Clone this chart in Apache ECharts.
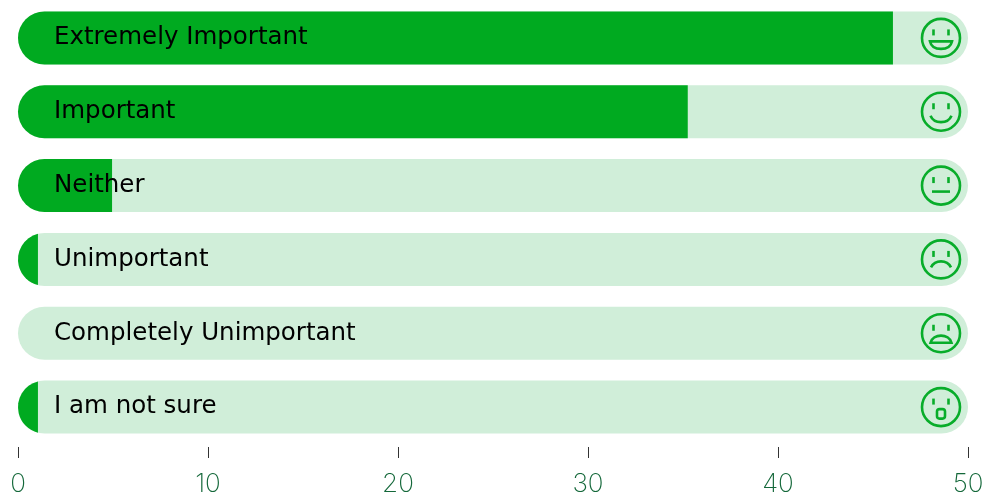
<!DOCTYPE html>
<html>
<head>
<meta charset="utf-8">
<style>html,body{margin:0;padding:0;background:#fff}#chart{width:987px;height:493px}</style>
<script src="https://cdn.jsdelivr.net/npm/echarts@6/dist/echarts.min.js"></script>
</head>
<body>
<div id="chart"></div>
<script>
// Survey answers, percent of respondents
const categories = ['Extremely Important', 'Important', 'Neither', 'Unimportant', 'Completely Unimportant', 'I am not sure'];
const percentages = [46.05, 35.25, 4.95, 1.05, 0, 1.05];
const faces = ['grin', 'smile', 'neutral', 'sad', 'cry', 'shock'];
const scaleMax = 50;
const tickStep = 10;

const GREEN = '#00aa20';
const PALE = '#d0eed9';
const FACE = '#08ad2a';
const BAR_H = 53;

// Left-rounded pill from x0 to x1, cut vertically at x1 when it falls inside the cap
function pillPath(x0, x1, top, bottom, roundRight) {
  const r = (bottom - top) / 2, cy = (top + bottom) / 2, w = x1 - x0;
  if (roundRight) {
    return `M${x0 + r} ${top}A${r} ${r} 0 0 0 ${x0 + r} ${bottom}L${x1 - r} ${bottom}A${r} ${r} 0 0 0 ${x1 - r} ${top}Z`;
  }
  if (w >= r) {
    return `M${x0 + r} ${top}A${r} ${r} 0 0 0 ${x0 + r} ${bottom}L${x1} ${bottom}L${x1} ${top}Z`;
  }
  const dy = Math.sqrt(r * r - (r - w) * (r - w));
  return `M${x1} ${cy - dy}A${r} ${r} 0 0 0 ${x1} ${cy + dy}Z`;
}

// Mouth outlines relative to the face centre
const mouths = {
  grin: 'M-11 3.5L11 3.5C10 8 6 11 0 11C-6 11 -10 8 -11 3.5Z',
  smile: 'M-10.5 4C-7 12.5 7 12.5 10.5 4',
  neutral: 'M-9 6L9 6',
  sad: 'M-10 8C-6 0 6 0 10 8',
  cry: 'M-10.5 9.5C-8 0 8 0 10.5 9.5Z',
  shock: 'M-1.5 2L1.5 2Q4 2 4 4.5L4 9Q4 11.5 1.5 11.5L-1.5 11.5Q-4 11.5 -4 9L-4 4.5Q-4 2 -1.5 2Z'
};

function renderRow(params, api) {
  const idx = api.value(1);
  const value = api.value(0);
  const c = api.coord([0, idx]);
  const end = api.coord([scaleMax, idx]);
  const x0 = c[0], x1 = end[0], cy = c[1];
  const top = cy - BAR_H / 2, bottom = cy + BAR_H / 2;
  const children = [{
    type: 'path',
    shape: { pathData: pillPath(x0, x1, top, bottom, true) },
    style: { fill: PALE }
  }];
  if (value > 0) {
    children.push({
      type: 'path',
      shape: { pathData: pillPath(x0, api.coord([value, idx])[0], top, bottom, false) },
      style: { fill: GREEN }
    });
  }
  // Face icon sits a fixed distance in from the right end of the track
  const fx = x1 - 27;
  const stroke = { stroke: FACE, fill: null, lineWidth: 2.6 };
  children.push(
    { type: 'circle', shape: { cx: fx, cy: cy, r: 19 }, style: stroke },
    { type: 'line', shape: { x1: fx - 7.5, y1: cy - 8.5, x2: fx - 7.5, y2: cy - 2.5 }, style: stroke },
    { type: 'line', shape: { x1: fx + 7.5, y1: cy - 8.5, x2: fx + 7.5, y2: cy - 2.5 }, style: stroke },
    {
      type: 'group', x: fx, y: cy,
      children: [{ type: 'path', shape: { pathData: mouths[faces[idx]] }, style: stroke }]
    }
  );
  return { type: 'group', children };
}

const chart = echarts.init(document.getElementById('chart'), null, { renderer: 'canvas' });
chart.setOption({
  animation: false,
  backgroundColor: '#fff',
  grid: { left: 18, width: 950, top: 1, height: 443, outerBoundsMode: 'none' },
  xAxis: {
    type: 'value', min: 0, max: scaleMax, interval: tickStep,
    offset: 3,
    splitLine: { show: false },
    axisLine: { show: false },
    axisTick: { show: true, length: 11, lineStyle: { color: '#333', width: 1 } },
    axisLabel: { color: '#14683a', fontFamily: 'Inter', fontWeight: 200, fontSize: 26, margin: 24 }
  },
  yAxis: {
    type: 'category', inverse: true, data: categories, z: 10,
    axisLine: { show: false }, axisTick: { show: false }, splitLine: { show: false },
    axisLabel: { inside: true, margin: 36, color: '#000', fontFamily: 'DejaVu Sans', fontSize: 24.5, align: 'left', padding: [2, 0, 0, 0] }
  },
  series: [{
    type: 'custom',
    clip: false,
    renderItem: renderRow,
    encode: { x: 0, y: 1 },
    data: percentages.map((v, i) => [v, i])
  }]
});
</script>
</body>
</html>
